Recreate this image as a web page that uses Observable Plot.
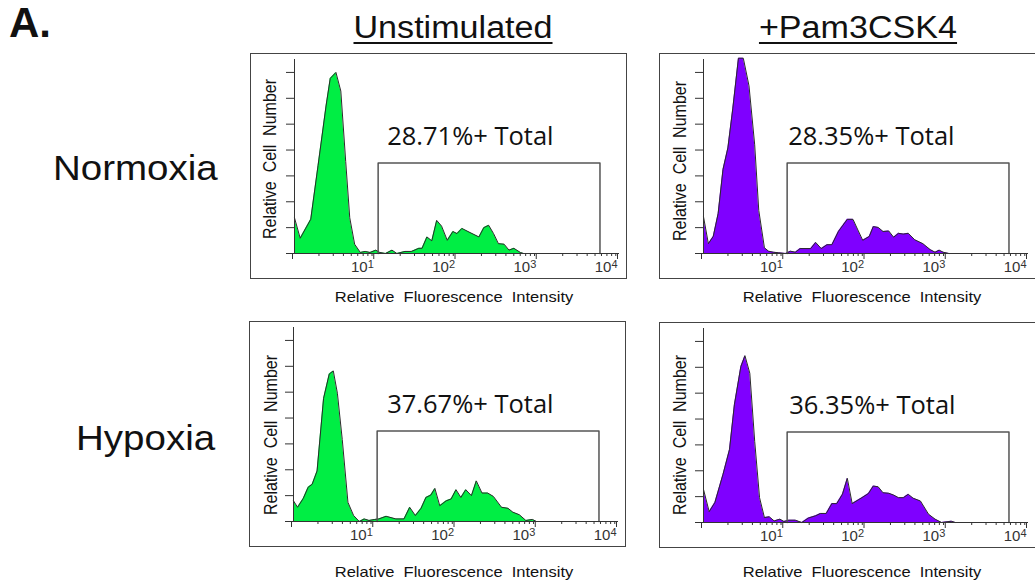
<!DOCTYPE html>
<html><head><meta charset="utf-8">
<script src="https://cdn.jsdelivr.net/npm/d3@7"></script>
<script src="https://cdn.jsdelivr.net/npm/@observablehq/plot@0.6"></script>
<style>
html,body{margin:0;padding:0;background:#fff;}
body{width:1035px;height:584px;overflow:hidden;position:relative;font-family:"Liberation Sans",Arial,sans-serif;color:#111;}
.lbl{position:absolute;white-space:pre;line-height:1;}
.panel{position:absolute;border:1.5px solid #444;width:377px;height:226px;box-sizing:border-box;}
.panel svg{display:block;overflow:visible;}
svg text{white-space:pre;}
</style></head><body>
<script>
// ---------- data ----------
const columnTitles = ["Unstimulated", "+Pam3CSK4"];
const rowTitles = ["Normoxia", "Hypoxia"];
const panelLabel = "A.";
const xAxisLabel = "Relative  Fluorescence  Intensity";
const yAxisLabel = "Relative  Cell  Number";
const percentLabels = ["28.71%+ Total", "28.35%+ Total", "37.67%+ Total", "36.35%+ Total"];
const fillColors = ["#00EE44", "#7F00FF", "#00EE44", "#7F00FF"];

// log10(fluorescence intensity) and relative cell number
const normUnstimLog = [0.00,0.07,0.20,0.29,0.39,0.44,0.51,0.57,0.63,0.68,0.74,0.81,0.87,0.93,1.00,1.05,1.12,1.20,1.26,1.36,1.44,1.53,1.57,1.63,1.69,1.75,1.81,1.88,1.95,2.00,2.06,2.16,2.27,2.33,2.39,2.45,2.51,2.58,2.64,2.70,2.78,2.82];
const normUnstimCount = [1.38,0.59,1.32,3.40,5.74,6.77,7.00,6.28,3.56,1.38,0.36,0.04,0.08,0.04,0.13,0.04,0.00,0.13,0.00,0.08,0.08,0.20,0.20,0.64,0.49,1.28,1.06,0.51,0.85,0.77,0.97,0.81,0.64,1.00,1.09,0.77,0.38,0.36,0.13,0.20,0.04,0.00];

const normPamLog = [0.00,0.06,0.12,0.18,0.24,0.30,0.36,0.43,0.49,0.56,0.63,0.68,0.75,0.80,0.86,0.92,1.01,1.07,1.13,1.19,1.32,1.38,1.45,1.52,1.58,1.66,1.77,1.84,1.90,1.96,2.04,2.09,2.15,2.21,2.28,2.34,2.40,2.46,2.52,2.60,2.70,2.79,2.85,2.90,2.95,3.02];
const normPamCount = [1.42,0.38,0.66,1.54,3.25,4.08,5.59,7.55,7.55,6.48,4.20,1.67,0.22,0.09,0.05,0.03,0.00,0.09,0.05,0.19,0.19,0.43,0.19,0.34,0.34,0.85,1.32,1.32,0.91,0.51,0.66,1.04,1.01,0.85,0.87,0.63,0.78,0.75,0.78,0.53,0.38,0.15,0.05,0.13,0.05,0.00];

const hypUnstimLog = [0.00,0.05,0.12,0.18,0.23,0.29,0.37,0.44,0.49,0.54,0.60,0.67,0.74,0.81,0.87,0.93,1.00,1.05,1.14,1.26,1.36,1.43,1.50,1.57,1.63,1.69,1.74,1.80,1.88,1.94,2.00,2.06,2.12,2.19,2.25,2.32,2.39,2.46,2.56,2.64,2.70,2.78,2.86,2.94,2.99];
const hypUnstimCount = [0.80,0.55,0.89,1.32,1.44,1.95,4.76,5.70,5.82,4.96,3.17,0.74,0.23,0.00,0.10,0.04,0.08,0.10,0.20,0.10,0.10,0.55,0.23,0.51,0.93,1.02,1.28,0.61,0.80,0.87,1.23,0.93,1.23,1.00,1.57,1.10,1.10,0.97,0.55,0.51,0.36,0.26,0.04,0.08,0.00];

const hypPamLog = [0.00,0.07,0.14,0.24,0.32,0.38,0.46,0.51,0.57,0.63,0.69,0.75,0.81,0.87,0.94,0.99,1.05,1.13,1.21,1.29,1.38,1.44,1.51,1.58,1.64,1.71,1.77,1.83,1.95,2.03,2.09,2.15,2.21,2.28,2.34,2.40,2.46,2.52,2.58,2.67,2.77,2.85,2.93,3.05,3.10];
const hypPamCount = [1.28,0.42,0.77,1.86,2.82,4.55,6.03,6.45,5.77,3.14,0.96,0.19,0.22,0.06,0.13,0.04,0.09,0.09,0.00,0.17,0.26,0.35,0.35,0.73,0.73,1.09,1.71,0.73,0.96,1.12,1.41,1.38,1.15,1.13,1.06,0.96,0.96,1.09,0.94,0.83,0.32,0.13,0.00,0.05,0.00];

// gate bounds (fluorescence) and gate level (relative cell number)
const gateRange = [10.7, 5750];
const gateLevel = 3.5;

// axes
const majorTicks = [1, 10, 100, 1000, 10000];
const minorMultipliers = [2, 3, 4, 5, 6, 7, 8, 9];
const yTicks = [0, 1, 2, 3, 4, 5, 6, 7];

// ---------- layout ----------
const panels = [
  {lg: normUnstimLog, cnt: normUnstimCount, left: 250, top: 53, labelDx: 9,  yl: [270, 159], xl: [454, 301.7]},
  {lg: normPamLog,    cnt: normPamCount,    left: 659, top: 53, labelDx: 1,  yl: [680, 161], xl: [862, 301.7]},
  {lg: hypUnstimLog,  cnt: hypUnstimCount,  left: 249, top: 321, labelDx: 10, yl: [271, 435], xl: [454, 576.7]},
  {lg: hypPamLog,     cnt: hypPamCount,     left: 659, top: 322, labelDx: 2,  yl: [680, 435], xl: [862, 576.7]}
];

const minorTicks = majorTicks.slice(0, -1).flatMap(m => minorMultipliers.map(k => k * m));
const svgNS = "http://www.w3.org/2000/svg";

function addLabel(txt, o) {
  const d = document.createElement("div");
  d.className = "lbl";
  d.textContent = txt;
  const size = o.size;
  d.style.fontSize = size + "px";
  if (o.weight) d.style.fontWeight = o.weight;
  if (o.family) d.style.fontFamily = o.family;
  const sx = o.sx ?? 1.1;
  if (o.rotate) {
    d.style.left = o.x + "px";
    d.style.top = o.y + "px";
    d.style.transform = `translate(-50%,-50%) rotate(-90deg) scaleY(${sx})`;
  } else {
    d.style.top = (o.base - 0.8465 * size) + "px";
    d.style.left = o.x + "px";
    if (o.anchor === "middle") {
      d.style.transform = `translateX(-50%) scaleX(${sx})`;
    } else {
      d.style.transformOrigin = "left center";
      d.style.transform = `scaleX(${sx})`;
    }
  }
  if (o.underline) {
    d.style.textDecoration = "underline";
    d.style.textDecorationThickness = "2px";
    d.style.textUnderlineOffset = "4px";
  }
  document.body.appendChild(d);
}

panels.forEach((p, i) => {
  const pts = p.lg.map((v, j) => ({x: 10 ** v, y: p.cnt[j]}));
  const gatePts = [
    {x: gateRange[0], y: 0}, {x: gateRange[0], y: gateLevel},
    {x: gateRange[1], y: gateLevel}, {x: gateRange[1], y: 0}
  ];
  const chart = Plot.plot({
    width: 374, height: 223,
    marginLeft: 43, marginRight: 6, marginTop: 5, marginBottom: 24,
    x: {type: "log", domain: [1, 1e4]},
    y: {domain: [0, 7.5]},
    style: {background: "transparent", fontFamily: "'Liberation Sans', Arial, sans-serif", fontSize: "15px", color: "#333", overflow: "visible"},
    marks: [
      Plot.areaY(pts, {x: "x", y: "y", fill: fillColors[i]}),
      Plot.lineY(pts, {x: "x", y: "y", stroke: "#2a2a2a", strokeWidth: 1}),
      Plot.line(gatePts, {x: "x", y: "y", stroke: "#555", strokeWidth: 1.5}),
      Plot.text([percentLabels[i]], {x: gateRange[0], y: gateLevel, text: d => d, textAnchor: "start", dx: p.labelDx, dy: -26, fontSize: 25.5, fontFamily: "'Open Sans', sans-serif", fill: "#111"}),
      Plot.ruleX([1], {stroke: "#333"}),
      Plot.ruleY([0], {stroke: "#333"}),
      Plot.axisY({ticks: yTicks, tickSize: 8, tickFormat: () => "", label: null}),
      Plot.axisX({ticks: minorTicks, tickSize: 3, tickFormat: () => "", label: null}),
      Plot.axisX({ticks: majorTicks, tickSize: 6, tickPadding: 2, textAnchor: "end", dx: -2, fill: "#333",
        tickFormat: d => d > 1 ? "10^" + Math.round(Math.log10(d)) : "", label: null})
    ]
  });
  chart.querySelectorAll("text").forEach(t => {
    const m = /^10\^(\d)$/.exec(t.textContent);
    if (m) {
      t.textContent = "10";
      t.style.fontSize = "15px";
      const ts = document.createElementNS(svgNS, "tspan");
      ts.setAttribute("dy", "-0.4em");
      ts.style.fontSize = "11px";
      ts.textContent = m[1];
      t.appendChild(ts);
    }
  });
  const box = document.createElement("div");
  box.className = "panel";
  box.style.left = p.left + "px";
  box.style.top = p.top + "px";
  box.appendChild(chart);
  document.body.appendChild(box);
  addLabel(yAxisLabel, {x: p.yl[0], y: p.yl[1], size: 16, rotate: true});
  addLabel(xAxisLabel, {x: p.xl[0], base: p.xl[1], size: 15, anchor: "middle"});
});

addLabel(panelLabel, {x: 9, base: 38, size: 42, weight: 700, sx: 1});
addLabel(columnTitles[0], {x: 452.5, base: 38, size: 31, anchor: "middle", underline: true});
addLabel(columnTitles[1], {x: 857.5, base: 38, size: 31, anchor: "middle", underline: true});
addLabel(rowTitles[0], {x: 53, base: 180, size: 35});
addLabel(rowTitles[1], {x: 76, base: 450, size: 35});
</script>
</body></html>
